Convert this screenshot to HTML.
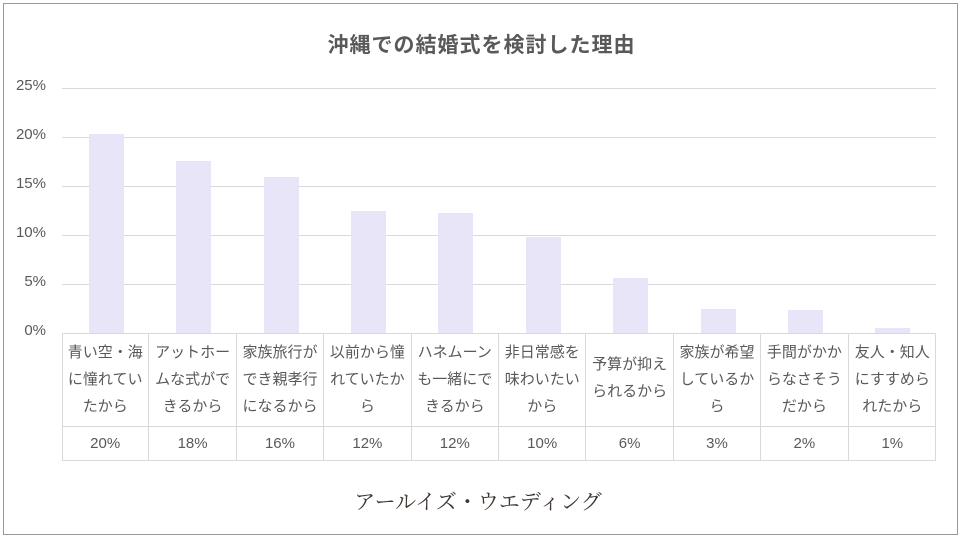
<!DOCTYPE html><html><head><meta charset="utf-8"><style>
body{margin:0;width:963px;height:541px;background:#fff;position:relative;overflow:hidden;font-family:"Liberation Sans","Noto Sans CJK JP",sans-serif;color:#595959}
.frame{position:absolute;left:3px;top:3px;width:955px;height:532px;border:1px solid #999;box-sizing:border-box}
.t{position:absolute;left:0;width:963px;top:29px;text-align:center;font-size:21px;letter-spacing:1px;font-weight:bold;color:#595959}
.g{position:absolute;left:62px;width:874px;height:1px;background:#d9d9d9}
.yl{position:absolute;left:0;width:46px;text-align:right;font-size:15px}
.bar{position:absolute;width:35px;background:#e9e5f9;bottom:208px}
.cell{position:absolute;box-sizing:border-box;border-right:1px solid #d9d9d9;text-align:center;font-size:15px}
</style></head><body>
<div class="frame"></div>
<div class="t">沖縄での結婚式を検討した理由</div>
<div class="g" style="top:88px"></div><div class="g" style="top:137px"></div><div class="g" style="top:186px"></div><div class="g" style="top:235px"></div><div class="g" style="top:284px"></div>
<div class="yl" style="top:77px">25%</div><div class="yl" style="top:126px">20%</div><div class="yl" style="top:175px">15%</div><div class="yl" style="top:224px">10%</div><div class="yl" style="top:273px">5%</div><div class="yl" style="top:322px">0%</div>
<div class="bar" style="left:89px;top:134px"></div>
<div class="bar" style="left:176px;top:161px"></div>
<div class="bar" style="left:264px;top:177px"></div>
<div class="bar" style="left:351px;top:211px"></div>
<div class="bar" style="left:438px;top:213px"></div>
<div class="bar" style="left:526px;top:237px"></div>
<div class="bar" style="left:613px;top:278px"></div>
<div class="bar" style="left:701px;top:309px"></div>
<div class="bar" style="left:788px;top:310px"></div>
<div class="bar" style="left:875px;top:328px"></div>
<div style="position:absolute;left:62px;top:333px;width:874px;height:128px;box-sizing:border-box;border:1px solid #d9d9d9"></div>
<div style="position:absolute;left:62px;top:426px;width:874px;height:1px;background:#d9d9d9"></div>
<div id="tb"></div>
<script>
var L=["青い空・海<br>に憧れてい<br>たから","アットホー<br>ムな式がで<br>きるから","家族旅行が<br>でき親孝行<br>になるから","以前から憧<br>れていたか<br>ら","ハネムーン<br>も一緒にで<br>きるから","非日常感を<br>味わいたい<br>から","予算が抑え<br>られるから","家族が希望<br>しているか<br>ら","手間がかか<br>らなさそう<br>だから","友人・知人<br>にすすめら<br>れたから"];
var V=["20%","18%","16%","12%","12%","10%","6%","3%","2%","1%"];
var h="";for(var i=0;i<10;i++){var x=62+i*87.4;var n=L[i].split("<br>").length;
h+='<div class="cell" style="left:'+x+'px;top:333px;width:87.4px;height:93px;line-height:27px;padding-top:'+(n==2?'18':'6')+'px;'+(i==9?'border-right:none':'')+'">'+L[i]+'</div>';
h+='<div class="cell" style="left:'+x+'px;top:426px;width:87.4px;height:35px;line-height:35px;'+(i==9?'border-right:none':'')+'">'+V[i]+'</div>';}
document.getElementById("tb").innerHTML=h;
</script>
<div style="position:absolute;left:300px;top:486px;width:356px;text-align:center;white-space:nowrap;font-family:'Noto Serif CJK SC','Liberation Serif',serif;font-size:21px;color:#3e3530">アールイズ・ウエディング</div>
</body></html>
